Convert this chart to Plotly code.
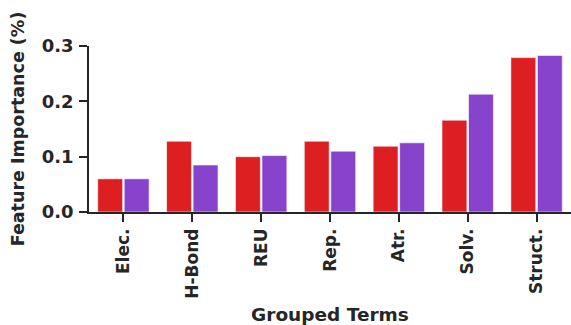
import plotly.graph_objects as go

# Grouped energy terms and their feature importances for the two models
terms = ["Elec.", "H-Bond", "REU", "Rep.", "Atr.", "Solv.", "Struct."]
model_a = [0.060, 0.128, 0.100, 0.128, 0.119, 0.166, 0.279]
model_b = [0.060, 0.085, 0.102, 0.110, 0.125, 0.213, 0.283]
y_ticks = [0.0, 0.1, 0.2, 0.3]

RED = "#DD1F21"
PURPLE = "#8843CC"
INK = "#262626"
FONT = "DejaVu Sans"

fig = go.Figure()
fig.add_trace(go.Bar(x=terms, y=model_a, marker=dict(color=RED, line=dict(color="rgba(255,255,255,0.6)", width=1)),
                     showlegend=False))
fig.add_trace(go.Bar(x=terms, y=model_b, marker=dict(color=PURPLE, line=dict(color="rgba(255,255,255,0.6)", width=1)),
                     showlegend=False))

fig.update_layout(
    width=571, height=325,
    margin=dict(l=89, r=0, t=46, b=113),
    paper_bgcolor="white", plot_bgcolor="white",
    barmode="group", bargap=0.23, bargroupgap=0.06,
    font=dict(family=FONT, color=INK, weight="bold"),
)
fig.update_xaxes(
    type="category", range=[-0.5, 6.5],
    showline=True, linecolor=INK, linewidth=1.5,
    ticks="outside", ticklen=8, tickwidth=1.5, tickcolor=INK,
    tickangle=-90, tickfont=dict(size=17, family=FONT, color=INK, weight="bold"),
    showgrid=False, zeroline=False, automargin=False,
    title=dict(text="Grouped Terms", font=dict(size=18.5, family=FONT, color=INK, weight="bold"), standoff=17),
)
fig.update_yaxes(
    range=[0, 0.3], tickvals=y_ticks, tickformat=".1f",
    showline=True, linecolor=INK, linewidth=1.5,
    ticks="outside", ticklen=8, tickwidth=1.5, tickcolor=INK,
    ticklabelstandoff=2,
    tickfont=dict(size=18, family=FONT, color=INK, weight="bold"),
    showgrid=False, zeroline=False, automargin=False,
    title=dict(text="Feature Importance (%)", font=dict(size=17.5, family=FONT, color=INK, weight="bold"), standoff=13),
)

fig.write_html("out.html")
